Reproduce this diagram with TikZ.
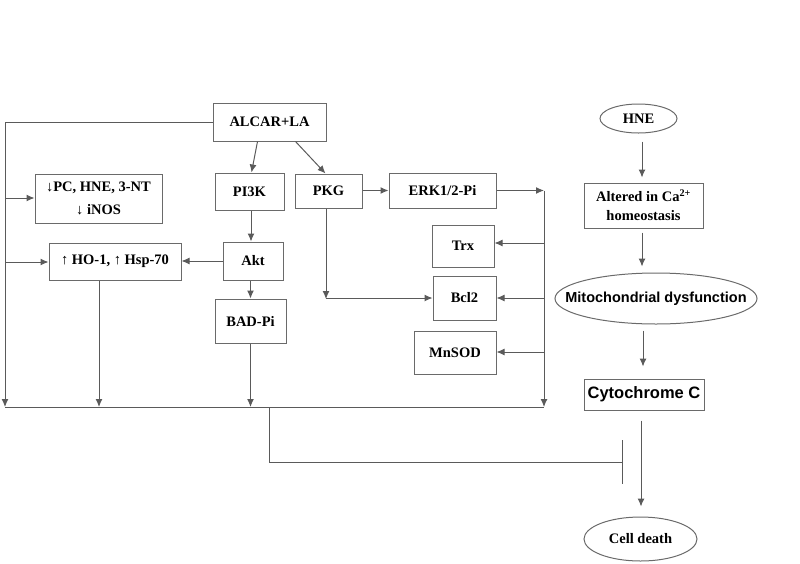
\documentclass[tikz,border=0pt]{standalone}
\usepackage{fontspec}
\setmainfont{Liberation Serif}
\newfontfamily\arialf{Liberation Sans}
\usetikzlibrary{arrows.meta,shapes.geometric}
\definecolor{linec}{HTML}{5A5A5A}
\definecolor{boxc}{HTML}{6A6A6A}
\tikzset{
  box/.style={draw=boxc, line width=1pt, inner sep=0pt, align=center,
    font=\bfseries\fontsize{14.5}{18}\selectfont, text=black},
  oval/.style={draw=boxc, line width=1pt, ellipse, inner sep=0pt, align=center,
    font=\bfseries\fontsize{14.5}{18}\selectfont, text=black},
  conn/.style={draw=linec, line width=1pt},
  arr/.style={conn, -{Latex[length=8pt,width=7pt]}},
  inhib/.style={conn, -{Bar[width=44pt,line width=1pt]}},
}
\begin{document}
\begin{tikzpicture}[x=1pt,y=-1pt]
\useasboundingbox (0,0) rectangle (800,563);
% nodes
\node[box, minimum width=113pt, minimum height=38pt] (alcar) at (269.5,122) {ALCAR+LA};
\node[box, minimum width=127pt, minimum height=49pt, font=\bfseries\fontsize{14.5}{23}\selectfont] (pc) at (98.5,198.5) {↓PC, HNE, 3-NT\\↓ iNOS};
\node[box, minimum width=132pt, minimum height=37pt] (ho) at (115,261.5) {↑ HO-1, ↑ Hsp-70};
\node[box, minimum width=69pt, minimum height=37pt] (pi3k) at (249.5,191.5) {PI3K};
\node[box, minimum width=67pt, minimum height=34pt] (pkg) at (328.5,191) {PKG};
\node[box, minimum width=60pt, minimum height=38pt] (akt) at (253,261) {Akt};
\node[box, minimum width=71pt, minimum height=44pt] (bad) at (250.5,321) {BAD-Pi};
\node[box, minimum width=107pt, minimum height=35pt] (erk) at (442.5,190.5) {ERK1/2-Pi};
\node[box, minimum width=62pt, minimum height=42pt] (trx) at (463,246) {Trx};
\node[box, minimum width=63pt, minimum height=44pt] (bcl2) at (464.5,298) {Bcl2};
\node[box, minimum width=82pt, minimum height=43pt] (mnsod) at (455,352.5) {MnSOD};
\node[oval, minimum width=77pt, minimum height=29pt] (hne) at (638.5,118.5) {HNE};
\node[box, minimum width=119pt, minimum height=45pt, font=\bfseries\fontsize{14.5}{19}\selectfont] (alt) at (643.5,205.5) {Altered in Ca\textsuperscript{2+}\\homeostasis};
\node[oval, minimum width=202pt, minimum height=51pt,
  label={[font=\arialf\bfseries\fontsize{14.5}{17}\selectfont, text=black]center:Mitochondrial dysfunction}] (mito) at (656,298.5) {};
\node[box, minimum width=120pt, minimum height=31pt, font=\arialf\bfseries\fontsize{16.5}{19}\selectfont] (cyto) at (644,394.5) {Cytochrome C};
\node[oval, minimum width=113pt, minimum height=44pt] (cell) at (640.5,539) {Cell death};
% coordinates
\coordinate (lt) at (5,122);
\coordinate (lpc) at (5,198);
\coordinate (lho) at (5,262);
\coordinate (lb) at (5,407);
\coordinate (hob) at (99,407);
\coordinate (badb) at (250.5,407);
\coordinate (pkb) at (326,298);
\coordinate (rt) at (544,190.5);
\coordinate (rtrx) at (544,243);
\coordinate (rbcl) at (544,298);
\coordinate (rmn) at (544,352);
\coordinate (rb) at (544,407);
\coordinate (bj) at (269,407);
\coordinate (bk) at (269,462);
\coordinate (tb) at (623,462);
% left side
\draw[conn] (alcar.west) -- (lt);
\draw[arr] (lt) -- (lb);
\draw[arr] (lpc) -- (pc.west |- lpc);
\draw[arr] (lho) -- (ho.west |- lho);
\draw[conn] (lb) -- (rb);
% center
\draw[arr] ([xshift=-12pt]alcar.south) -- ([xshift=2pt]pi3k.north);
\draw[arr] ([xshift=26pt]alcar.south) -- ([xshift=-3pt]pkg.north);
\draw[arr] (pi3k.south -| 251,0) -- (akt.north -| 251,0);
\draw[arr] (akt.west) -- (ho.east |- akt.west);
\draw[arr] (bad.north |- akt.south) -- (bad.north);
\draw[arr] (bad.south) -- (badb);
\draw[arr] ([xshift=-16pt]ho.south) -- (hob);
\draw[arr] (pkg.east |- erk.west) -- (erk.west);
\draw[arr] (pkg.south -| pkb) -- ([yshift=-1pt]pkb);
\draw[arr] (pkb) -- (bcl2.west |- pkb);
% right bus
\draw[arr] (erk.east) -- (rt);
\draw[arr] (rt) -- (rb);
\draw[arr] (rtrx) -- (trx.east |- rtrx);
\draw[arr] (rbcl) -- (bcl2.east |- rbcl);
\draw[arr] (rmn) -- (mnsod.east |- rmn);
% inhibition
\draw[inhib] (bj) -- (bk) -- (tb);
% right column
\draw[arr, shorten <=8pt, shorten >=5pt] (hne.south -| 642,0) -- (alt.north -| 642,0);
\draw[arr, shorten <=4pt, shorten >=6pt] (alt.south -| 642,0) -- (mito.north -| 642,0);
\draw[arr, shorten <=6pt, shorten >=12pt] (mito.south -| 643,0) -- (cyto.north -| 643,0);
\draw[arr, shorten <=10pt, shorten >=10pt] (cyto.south -| 641,0) -- (cell.north -| 641,0);
\end{tikzpicture}
\end{document}
